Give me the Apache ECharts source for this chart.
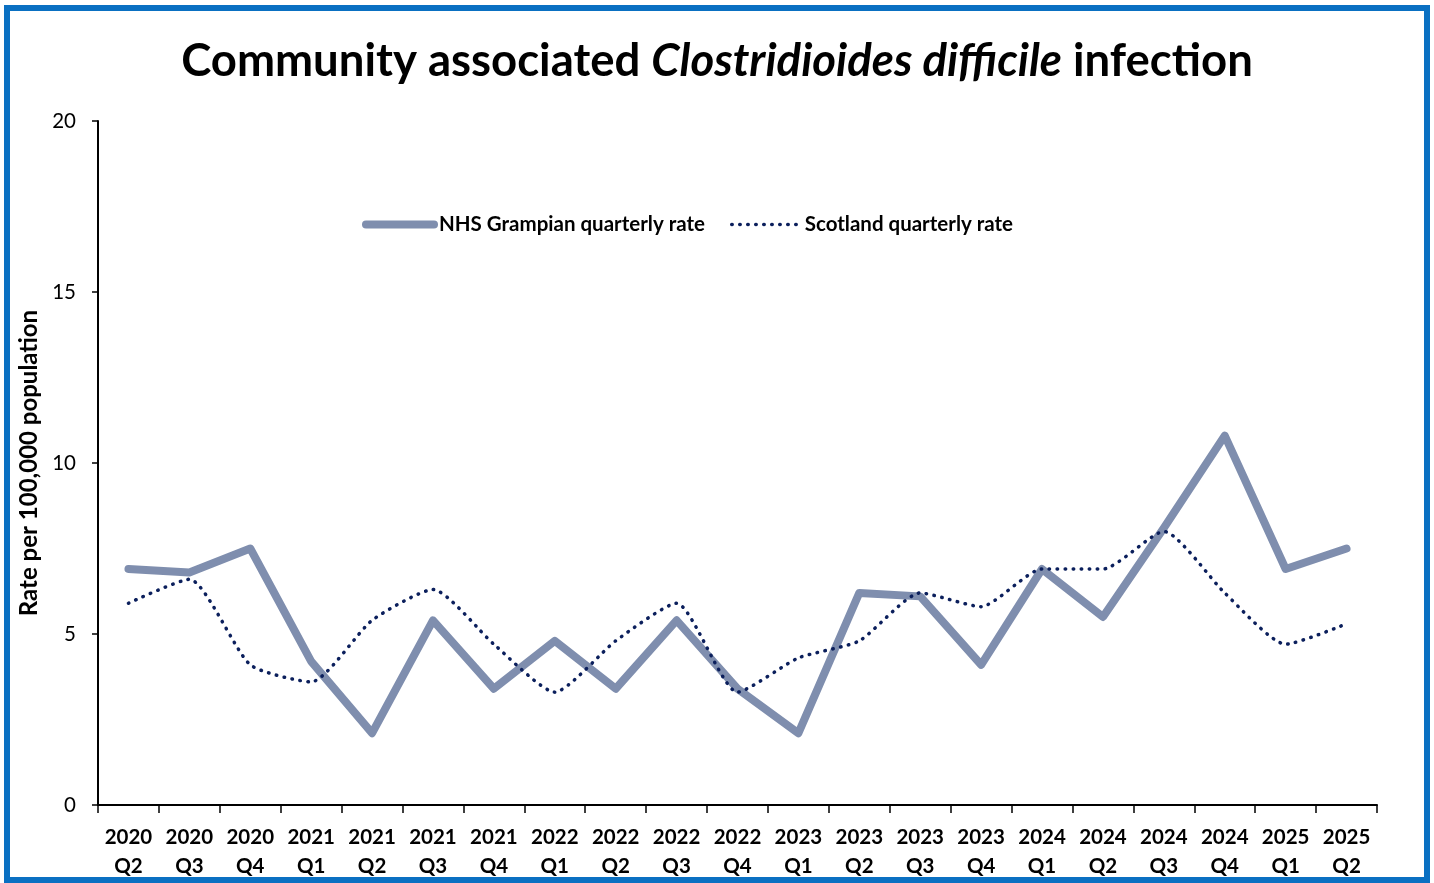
<!DOCTYPE html>
<html>
<head>
<meta charset="utf-8">
<script src="https://cdn.jsdelivr.net/npm/echarts@6/dist/echarts.min.js"></script>
<style>
  html, body { margin: 0; padding: 0; background: #fff; overflow: hidden; }
  #frame { position: absolute; left: 4px; top: 5px; width: 1414px; height: 866px; border: 6px solid #0A70C2; }
  #chart { position: absolute; left: 0; top: 0; width: 1434px; height: 883px; }
</style>
</head>
<body>
<div id="frame"></div>
<div id="chart"></div>
<script>
const categories = ['2020\nQ2','2020\nQ3','2020\nQ4','2021\nQ1','2021\nQ2','2021\nQ3','2021\nQ4','2022\nQ1','2022\nQ2','2022\nQ3','2022\nQ4','2023\nQ1','2023\nQ2','2023\nQ3','2023\nQ4','2024\nQ1','2024\nQ2','2024\nQ3','2024\nQ4','2025\nQ1','2025\nQ2'];
const grampianRate = [6.9, 6.8, 7.5, 4.2, 2.1, 5.4, 3.4, 4.8, 3.4, 5.4, 3.4, 2.1, 6.2, 6.1, 4.1, 6.9, 5.5, 8.1, 10.8, 6.9, 7.5];
const scotlandRate = [5.9, 6.6, 4.1, 3.6, 5.4, 6.3, 4.7, 3.3, 4.8, 5.9, 3.3, 4.3, 4.8, 6.2, 5.8, 6.9, 6.9, 8.0, 6.2, 4.7, 5.3];
const yTicks = [0, 5, 10, 15, 20];

const GRAMPIAN = '#7F8EAE';
const SCOTLAND = '#0B1F5C';
const chart = echarts.init(document.getElementById('chart'), null, { renderer: 'canvas' });
const font = 'Lato';
chart.setOption({
  backgroundColor: 'transparent',
  animation: false,
  title: {
    text: '{n|Community associated }{i|Clostridioides difficile}{n| infection}',
    left: 'center',
    top: 33,
    textStyle: {
      rich: {
        n: { fontFamily: font, fontWeight: 'bold', fontSize: 45.5, color: '#000' },
        i: { fontFamily: font, fontWeight: 'bold', fontStyle: 'italic', fontSize: 45.5, color: '#000' }
      }
    }
  },
  legend: {
    top: 209,
    left: 357,
    itemWidth: 68,
    itemHeight: 10,
    itemGap: 25,
    textStyle: { fontFamily: font, fontWeight: 'bold', fontSize: 20.5, color: '#000', padding: [0, 0, 0, 0] },
    data: [
      { name: 'NHS Grampian quarterly rate', itemStyle: { opacity: 0 }, lineStyle: { width: 8, cap: 'round', color: GRAMPIAN } },
      { name: 'Scotland quarterly rate', itemStyle: { opacity: 0 }, lineStyle: { width: 3.5, type: [0.5, 7.5], cap: 'round', color: SCOTLAND } }
    ]
  },
  grid: { left: 98, right: 57, top: 121, bottom: 78, containLabel: false },
  xAxis: {
    type: 'category',
    data: categories,
    boundaryGap: true,
    axisLine: { lineStyle: { color: '#000', width: 2 } },
    axisTick: { show: true, length: 8, lineStyle: { color: '#000', width: 1.5 } },
    axisLabel: { interval: 0, fontFamily: font, fontWeight: 'bold', fontSize: 20.5, color: '#000', lineHeight: 29, margin: 18 }
  },
  yAxis: {
    type: 'value',
    min: 0, max: 20, interval: 5,
    name: 'Rate per 100,000 population',
    nameLocation: 'middle',
    nameGap: 57,
    nameRotate: 90,
    nameTextStyle: { fontFamily: font, fontWeight: 'bold', fontSize: 24, color: '#000' },
    axisLine: { show: true, lineStyle: { color: '#000', width: 2 } },
    axisTick: { show: true, length: 6, inside: false, lineStyle: { color: '#000', width: 1.5 } },
    splitLine: { show: false },
    axisLabel: {
      fontFamily: font, fontSize: 20.5, color: '#000', margin: 22,
      formatter: v => yTicks.includes(v) ? String(v) : ''
    }
  },
  series: [
    {
      name: 'NHS Grampian quarterly rate',
      type: 'line',
      data: grampianRate,
      symbol: 'none',
      color: GRAMPIAN,
      lineStyle: { color: GRAMPIAN, width: 8, cap: 'round', join: 'round' },
      z: 2
    },
    {
      name: 'Scotland quarterly rate',
      type: 'line',
      data: scotlandRate,
      symbol: 'none',
      smooth: 0.2,
      color: SCOTLAND,
      lineStyle: { color: SCOTLAND, width: 3.5, type: [0.5, 7.5], cap: 'round' },
      z: 3
    }
  ]
});
</script>
</body>
</html>
